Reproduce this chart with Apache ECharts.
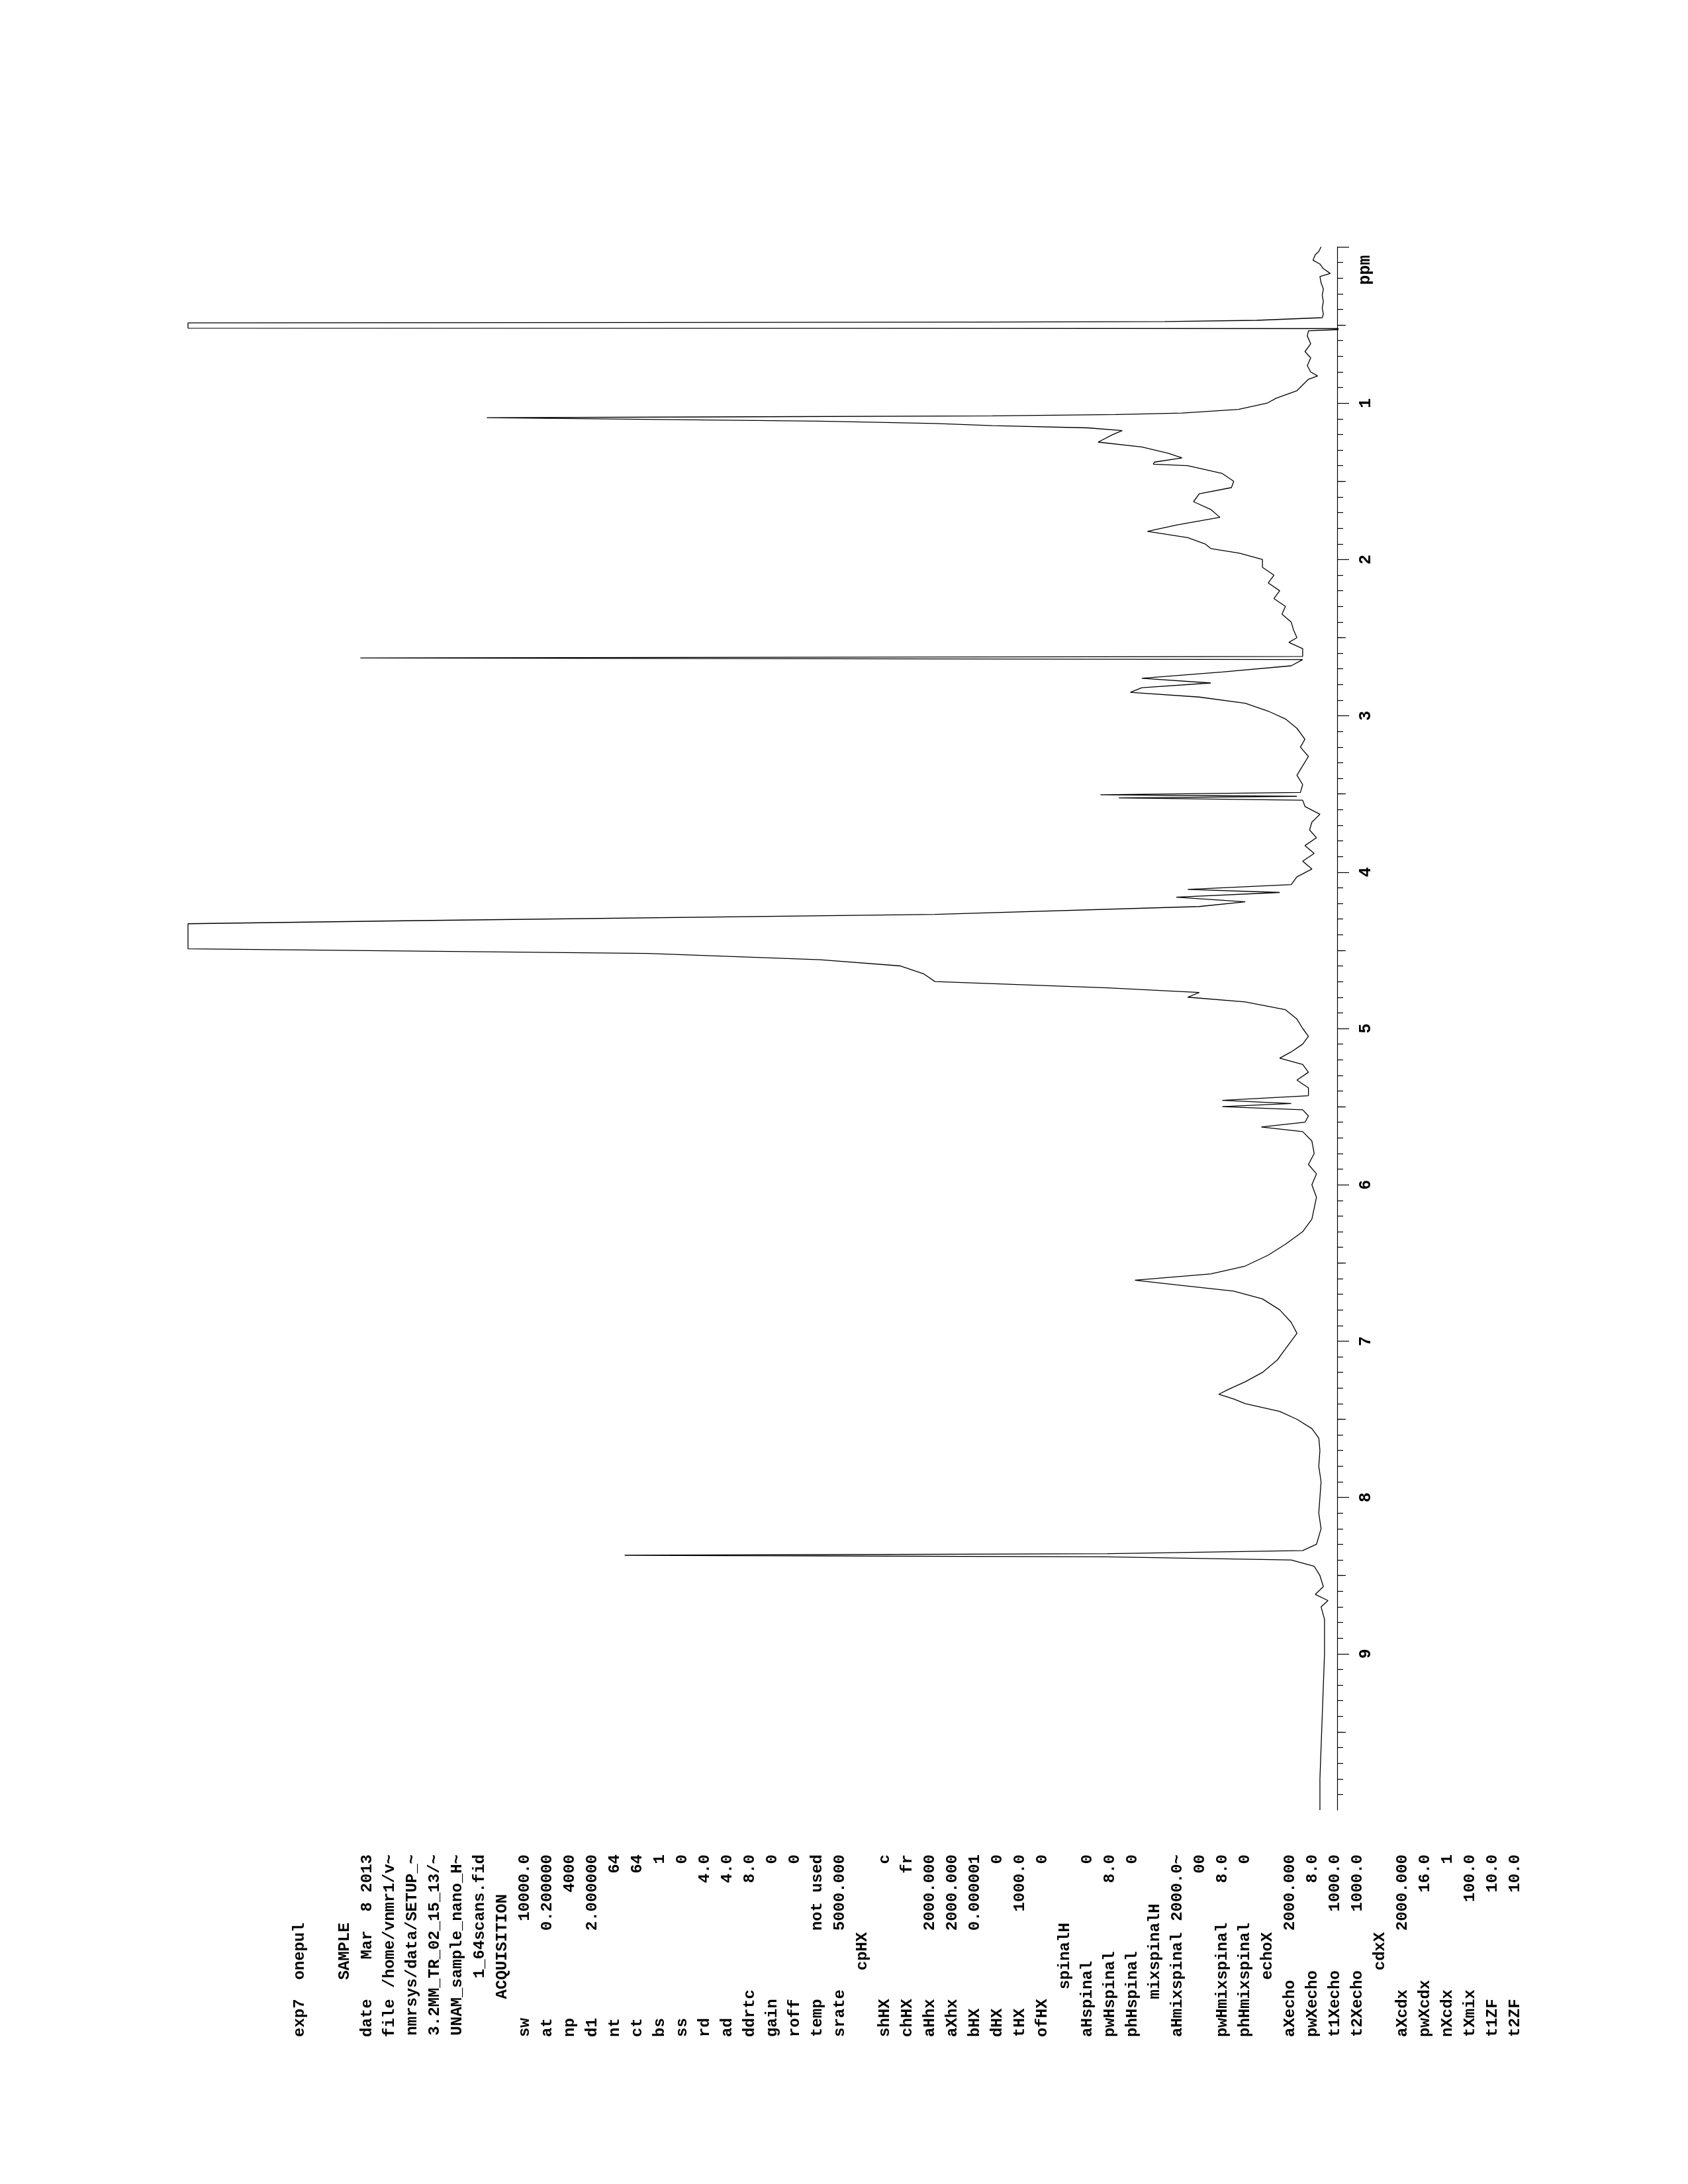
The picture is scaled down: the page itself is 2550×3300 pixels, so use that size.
<!DOCTYPE html>
<html>
<head>
<meta charset="utf-8">
<script src="https://cdn.jsdelivr.net/npm/echarts@6/dist/echarts.min.js"></script>
<style>
html,body{margin:0;padding:0;background:#fff;}
#chart{width:2550px;height:3300px;}
</style>
</head>
<body>
<div id="chart"></div>
<script>
// Chemical shift (ppm) of each trace point
const ppmValues = [
0.00,0.03,0.05,0.085,0.11,0.14,0.17,0.19,0.23,0.27,0.31,0.35,0.39,0.43,0.453,
0.47,0.478,0.481,0.484,0.486,0.520,0.5215,0.523,0.537,
0.57,0.62,0.67,0.71,0.76,0.80,0.826,0.847,0.92,0.968,1.00,1.04,1.063,1.073,1.081,1.088,1.093,1.115,1.13,1.144,1.158,1.175,
1.20,1.249,1.28,1.32,1.35,1.377,1.39,1.40,1.45,1.50,1.54,1.58,1.63,1.68,1.73,1.78,1.82,1.86,1.90,1.93,1.96,
2.00,2.05,2.10,2.15,2.20,2.25,2.30,2.35,2.40,2.45,2.50,2.53,2.57,2.62,2.63,2.64,2.68,2.72,2.76,2.79,
2.82,2.85,2.88,2.92,2.97,3.02,3.08,3.15,3.20,3.26,3.32,3.38,3.44,3.49,3.505,3.515,3.525,3.54,3.58,
3.63,3.68,3.73,3.78,3.83,3.88,3.93,3.98,4.03,4.08,4.11,4.13,4.16,4.19,4.22,4.27,4.31,4.33,4.49,
4.52,4.56,4.60,4.65,4.70,4.74,4.77,4.80,4.83,4.88,4.94,5.00,5.05,5.10,5.15,5.19,5.23,5.28,5.33,5.38,
5.43,5.46,5.48,5.50,5.52,5.56,5.60,5.63,5.66,5.72,5.80,5.87,5.93,6.00,6.08,6.15,6.22,6.30,6.38,6.45,
6.52,6.57,6.61,6.64,6.68,6.73,6.80,6.88,6.95,7.00,7.05,7.12,7.20,7.26,7.31,7.34,7.37,7.40,7.45,7.50,
7.56,7.62,7.70,7.80,7.90,8.00,8.10,8.20,8.30,8.34,8.36,8.37,8.38,8.40,8.44,8.50,8.57,8.62,8.66,8.70,
8.78,8.90,9.00,9.20,9.40,9.60,9.80,10.00
];
// Plotted intensity (arbitrary units, 100 = plot clip level)
const intensityValues = [
1.4,1.6,1.9,2.1,1.5,1.2,0.6,1.5,1.4,1.2,1.3,1.2,1.3,1.2,1.3,
7,15,30,60,100,100,40,-2.2,2.5,
2.6,2.3,2.8,2.3,2.6,2.3,1.7,2.5,3.5,5.3,6.1,8.6,13.5,19.3,30,55,74,45,35,30,21.7,18.7,
19.5,20.8,17,14.7,13.5,15.9,16,13,10,9,9.2,12,12.5,11,10.2,14,16.5,13,11.5,11,8.5,
6.5,6.5,5.5,6,5,5.5,4.5,4.8,4,3.8,3.5,4.2,3,3,85,3,4,10,17,11,
17,18,12,8,6,4.5,3.5,2.8,3.2,2.5,3,3.5,3,3.2,20.6,3.5,19,3,2.8,
1.5,2.2,2.4,1.8,2.8,2,3,2.2,3.5,4,13,5,14,8,12,35,80,100,100,
60,45,38,36,35,20,12,13,8,4.5,3.5,3,2.5,3,4,5,3,2.5,3.5,2.5,
2.5,10,4,10,3,2.5,2.8,6.6,3,2.2,2,2.5,1.8,2.2,1.8,2,2.2,3,4.5,6,
8,11,17.6,14,9,6.5,5,4,3.5,4,4.5,5.2,6.5,8,9.5,10.3,9,8,5,3.5,
2.2,1.6,1.5,1.6,1.4,1.5,1.6,1.4,1.8,3,20,62,20,4,2,1.5,1.2,1.9,0.8,1.4,
1.1,1.1,1.1,1.2,1.3,1.4,1.5,1.5
];
// Axis tick labels and tick positions (ppm)
const ppmTickLabels = [1,2,3,4,5,6,7,8,9];
const majorTickValues = [0,1,2,3,4,5,6,7,8,9];
const halfTickValues = [0.5,1.5,2.5,3.5,4.5,5.5,6.5,7.5,8.5,9.5];
// Parameter listing: [left text, right-aligned text]
const paramLines = [
["exp7  onepul",""],
["",""],
["      SAMPLE",""],
["date","Mar  8 2013"],
["file","/home/vnmr1/v~"],
["","nmrsys/data/SETUP_~"],
["","3.2MM_TR_02_15_13/~"],
["","UNAM_sample_nano_H~"],
["","1_64scans.fid"],
["    ACQUISITION",""],
["sw","10000.0"],
["at","0.200000"],
["np","4000"],
["d1","2.000000"],
["nt","64"],
["ct","64"],
["bs","1"],
["ss","0"],
["rd","4.0"],
["ad","4.0"],
["ddrtc","8.0"],
["gain","0"],
["roff","0"],
["temp","not used"],
["srate","5000.000"],
["       cpHX",""],
["shHX","c"],
["chHX","fr"],
["aHhx","2000.000"],
["aXhx","2000.000"],
["bHX","0.000001"],
["dHX","0"],
["tHX","1000.0"],
["ofHX","0"],
["     spinalH",""],
["aHspinal","0"],
["pwHspinal","8.0"],
["phHspinal","0"],
["    mixspinalH",""],
["aHmixspinal","2000.0~"],
["","00"],
["pwHmixspinal","8.0"],
["phHmixspinal","0"],
["      echoX",""],
["aXecho","2000.000"],
["pwXecho","8.0"],
["t1Xecho","1000.0"],
["t2Xecho","1000.0"],
["       cdxX",""],
["aXcdx","2000.000"],
["pwXcdx","16.0"],
["nXcdx","1"],
["tXmix","100.0"],
["t1ZF","10.0"],
["t2ZF","10.0"]
];

const chart = echarts.init(document.getElementById('chart'), null, {renderer:'canvas'});
const seriesData = ppmValues.map((p,i)=>[intensityValues[i], p]);
const MONO = '"Liberation Mono", "DejaVu Sans Mono", monospace';

const graphics = [];
paramLines.forEach((ln, k) => {
  const x = 453 + 34*k;
  if (ln[0]) graphics.push({type:'text', x:x, y:3078, rotation:Math.PI/2, silent:true,
    style:{text:ln[0], font:'bold 24px '+MONO, fill:'#000', textAlign:'left', textVerticalAlign:'middle'}});
  if (ln[1]) graphics.push({type:'text', x:x, y:2802, rotation:Math.PI/2, silent:true,
    style:{text:ln[1], font:'bold 24px '+MONO, fill:'#000', textAlign:'right', textVerticalAlign:'middle'}});
});
graphics.push({type:'text', x:2063, y:408, rotation:Math.PI/2, silent:true,
  style:{text:'ppm', font:'bold 25px '+MONO, fill:'#000', textAlign:'center', textVerticalAlign:'middle'}});

const option = {
  animation:false,
  backgroundColor:'#fff',
  grid:{left:284, right:530, top:373, bottom:565, containLabel:false},
  xAxis:{type:'value', min:0, max:100, inverse:true, show:false},
  yAxis:[
    {type:'value', min:0, max:10, interval:1, inverse:true, position:'right',
     axisLine:{show:true, lineStyle:{color:'#000', width:1.2}},
     axisTick:{show:true, length:18, customValues:majorTickValues, lineStyle:{color:'#000', width:1.2}},
     minorTick:{show:true, splitNumber:10, length:9, lineStyle:{color:'#000', width:1.2}},
     splitLine:{show:false}, minorSplitLine:{show:false},
     axisLabel:{show:true, rotate:90, margin:31, color:'#000', fontFamily:MONO, fontWeight:'bold', fontSize:25,
       customValues:ppmTickLabels,
       formatter:(v)=> ppmTickLabels.indexOf(Math.round(v))>=0 && Math.abs(v-Math.round(v))<1e-6 ? String(Math.round(v)) : ''}},
    {type:'value', min:0, max:10, interval:0.5, inverse:true, position:'right',
     axisLine:{show:false},
     axisTick:{show:true, length:13, customValues:halfTickValues, lineStyle:{color:'#000', width:1.2}},
     splitLine:{show:false}, axisLabel:{show:false}}
  ],
  series:[{
    type:'line', xAxisIndex:0, yAxisIndex:0, data:seriesData, showSymbol:false, symbol:'none',
    clip:false, lineStyle:{color:'#000', width:1.3}, silent:true
  }],
  graphic:{elements:graphics}
};
chart.setOption(option);
</script>
</body>
</html>
